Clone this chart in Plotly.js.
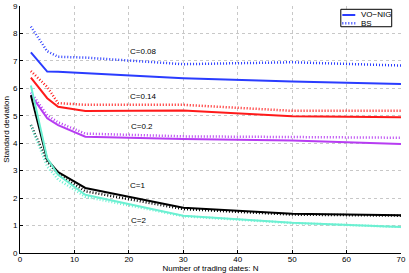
<!DOCTYPE html>
<html>
<head>
<meta charset="utf-8">
<script src="https://cdn.plot.ly/plotly-3.0.1.min.js"></script>
<style>
html,body{margin:0;padding:0;background:#fff;}
#chart{width:409px;height:273px;}
</style>
</head>
<body>
<div id="chart"></div>
<script>
// Number of trading dates N
const N = [2, 5, 7, 12, 30, 50, 70];

// VO-NIG (solid)
const nig_c008 = [7.31, 6.61, 6.60, 6.55, 6.37, 6.25, 6.16];
const nig_c014 = [6.39, 5.64, 5.33, 5.17, 5.19, 4.98, 4.95];
const nig_c02  = [5.76, 4.91, 4.66, 4.24, 4.15, 4.10, 3.97];
const nig_c1   = [5.75, 3.40, 2.95, 2.37, 1.65, 1.43, 1.38];
const nig_c2   = [6.10, 3.45, 2.85, 2.12, 1.36, 1.10, 0.95];

// BS (dotted)
const bs_c008 = [8.25, 7.35, 7.15, 7.12, 6.88, 6.95, 6.83];
const bs_c014 = [6.63, 6.05, 5.46, 5.40, 5.40, 5.18, 5.18];
const bs_c02  = [5.85, 5.02, 4.76, 4.35, 4.25, 4.23, 4.20];
const bs_c1   = [4.66, 3.33, 2.88, 2.25, 1.60, 1.40, 1.36];
const bs_c2   = [4.65, 3.15, 2.68, 2.05, 1.34, 1.09, 0.95];

const cLabels = ['C=0.08', 'C=0.14', 'C=0.2', 'C=1', 'C=2'];
const cLabelX = [22.7, 22.7, 22.4, 21.6, 21.8];
const cLabelY = [7.33, 5.70, 4.60, 2.47, 1.19];

const legendNames = ['VO\u2212NIG', 'BS'];

const colors = ['#2a3cff', '#ff1a1a', '#b73cf2', '#000000', '#6cf0d2'];
const nigSeries = [nig_c008, nig_c014, nig_c02, nig_c1, nig_c2];
const bsSeries = [bs_c008, bs_c014, bs_c02, bs_c1, bs_c2];

const DOT = '1px,2px';
const traces = [];
bsSeries.forEach((ys, i) => {
  traces.push({
    x: N, y: ys, type: 'scatter', mode: 'lines',
    name: legendNames[1] + ' ' + cLabels[i], showlegend: false,
    line: {color: colors[i], width: 2.5, dash: DOT},
    hoverinfo: 'skip'
  });
});
nigSeries.forEach((ys, i) => {
  traces.push({
    x: N, y: ys, type: 'scatter', mode: 'lines',
    name: legendNames[0] + ' ' + cLabels[i], showlegend: false,
    line: {color: colors[i], width: 2},
    hoverinfo: 'skip'
  });
});

const FAM = 'Liberation Sans, Arial, sans-serif';
const font = {family: FAM, size: 8, color: '#000'};

const annotations = cLabels.map((t, i) => ({
  x: cLabelX[i], y: cLabelY[i], xref: 'x', yref: 'y',
  text: t, showarrow: false, font: font
}));

// compact legend (MATLAB style) in paper coordinates
const LG = {x0: 0.842, x1: 0.9756, y0: 0.916, y1: 0.9866,
            sx0: 0.846, sx1: 0.880, tx: 0.889, rows: [0.9636, 0.930]};
annotations.push(
  {xref: 'paper', yref: 'paper', x: LG.tx, y: LG.rows[0], xanchor: 'left', yanchor: 'middle',
   text: legendNames[0], showarrow: false, font: font},
  {xref: 'paper', yref: 'paper', x: LG.tx, y: LG.rows[1], xanchor: 'left', yanchor: 'middle',
   text: legendNames[1], showarrow: false, font: font}
);
const shapes = [
  {type: 'rect', xref: 'paper', yref: 'paper', x0: LG.x0, x1: LG.x1, y0: LG.y0, y1: LG.y1,
   fillcolor: '#fff', line: {color: '#000', width: 1}, layer: 'above'},
  {type: 'line', xref: 'paper', yref: 'paper', x0: LG.sx0, x1: LG.sx1, y0: LG.rows[0], y1: LG.rows[0],
   line: {color: colors[0], width: 2}, layer: 'above'},
  {type: 'line', xref: 'paper', yref: 'paper', x0: LG.sx0, x1: LG.sx1, y0: LG.rows[1], y1: LG.rows[1],
   line: {color: colors[0], width: 2.5, dash: DOT}, layer: 'above'}
];

const layout = {
  width: 409, height: 273,
  margin: {l: 19.5, r: 8, t: 6, b: 20, pad: 0},
  paper_bgcolor: '#fff', plot_bgcolor: '#fff',
  font: font,
  showlegend: false,
  xaxis: {
    range: [0, 70], tickvals: [0,10,20,30,40,50,60,70],
    ticks: 'inside', ticklen: 3, tickcolor: '#000',
    ticklabelstandoff: -2,
    showline: true, linecolor: '#000', linewidth: 1,
    showgrid: true, gridcolor: '#c8c8c8', griddash: 'dot', gridwidth: 1,
    zeroline: false, automargin: false,
    tickfont: font,
    title: {text: 'Number of trading dates: N', font: font, standoff: 0}
  },
  yaxis: {
    range: [0, 9], tickvals: [0,1,2,3,4,5,6,7,8,9],
    ticks: 'inside', ticklen: 3, tickcolor: '#000',
    showline: true, linecolor: '#000', linewidth: 1,
    showgrid: true, gridcolor: '#c8c8c8', griddash: 'dot', gridwidth: 1,
    zeroline: false, automargin: false,
    tickfont: font,
    title: {text: 'Standard deviation', font: font, standoff: 2}
  },
  annotations: annotations,
  shapes: shapes
};

Plotly.newPlot('chart', traces, layout, {displayModeBar: false, staticPlot: true});
</script>
</body>
</html>
